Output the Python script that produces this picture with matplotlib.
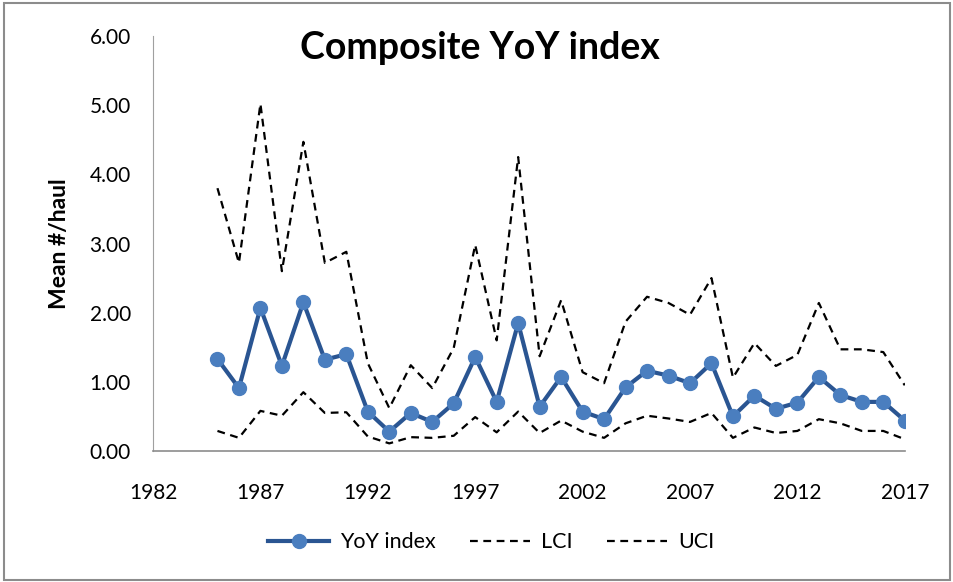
import matplotlib
matplotlib.use("Agg")
import matplotlib.pyplot as plt
from matplotlib.patches import Rectangle

years = list(range(1985, 2018))
yoy = [1.33, 0.91, 2.07, 1.23, 2.15, 1.32, 1.40, 0.57, 0.28, 0.55, 0.42, 0.69, 1.36,
       0.71, 1.85, 0.64, 1.07, 0.57, 0.46, 0.92, 1.16, 1.09, 0.98, 1.27, 0.50, 0.80,
       0.61, 0.70, 1.07, 0.81, 0.71, 0.71, 0.44]
lci = [0.29, 0.19, 0.58, 0.51, 0.85, 0.55, 0.56, 0.21, 0.11, 0.20, 0.19, 0.22, 0.49,
       0.27, 0.57, 0.26, 0.44, 0.28, 0.19, 0.40, 0.51, 0.47, 0.42, 0.55, 0.19, 0.34,
       0.26, 0.29, 0.46, 0.40, 0.29, 0.29, 0.17]
uci = [3.80, 2.72, 5.02, 2.60, 4.47, 2.72, 2.88, 1.27, 0.62, 1.24, 0.91, 1.49, 2.98,
       1.60, 4.25, 1.37, 2.18, 1.14, 0.98, 1.87, 2.23, 2.14, 1.97, 2.50, 1.06, 1.56,
       1.23, 1.39, 2.14, 1.47, 1.47, 1.43, 0.95]
xticks = [1982, 1987, 1992, 1997, 2002, 2007, 2012, 2017]
yticks = [0, 1, 2, 3, 4, 5, 6]

plt.rcParams['font.family'] = ['Lato', 'DejaVu Sans']

fig = plt.figure(figsize=(9.54, 5.82), dpi=100)
fig.patches.append(Rectangle((0.004, 0.004), 0.992, 0.991, transform=fig.transFigure,
                             fill=False, edgecolor='#8c8c8c', linewidth=1.5))
ax = fig.add_axes([0.1604, 0.2251, 0.788, 0.713])

ax.plot(years, yoy, color='#2a5592', linewidth=3, marker='o', markersize=10,
        markerfacecolor='#4a7ebf', markeredgecolor='#4a7ebf', label='YoY index', zorder=3)
ax.plot(years, lci, color='black', linestyle=(0, (3.5, 2.5)), linewidth=1.6, label='LCI')
ax.plot(years, uci, color='black', linestyle=(0, (3.5, 2.5)), linewidth=1.6, label='UCI')

ax.set_xlim(1982, 2017)
ax.set_ylim(0, 6)
ax.set_xticks(xticks)
ax.set_yticks(yticks)
ax.set_yticklabels([f"{v:.2f}" for v in yticks])
ax.tick_params(axis='both', length=0, labelsize=15, colors='#000000')
ax.tick_params(axis='y', pad=16)
ax.tick_params(axis='x', pad=23)
for s in ['top', 'right']:
    ax.spines[s].set_visible(False)
ax.spines['left'].set_color('#a0a0a0')
ax.spines['bottom'].set_color('#8c8c8c')
ax.spines['bottom'].set_linewidth(1.2)

ax.set_ylabel('Mean #/haul', fontsize=16.5, fontweight='bold', labelpad=14)
fig.text(0.503, 0.918, 'Composite YoY index', ha='center', va='center',
         fontsize=27, fontweight='bold')

fig.legend(loc='center', bbox_to_anchor=(0.515, 0.068), ncol=3, frameon=False,
           fontsize=15.5, handlelength=2.8, columnspacing=1.6, handletextpad=0.5)

fig.savefig('out.png', dpi=100)
